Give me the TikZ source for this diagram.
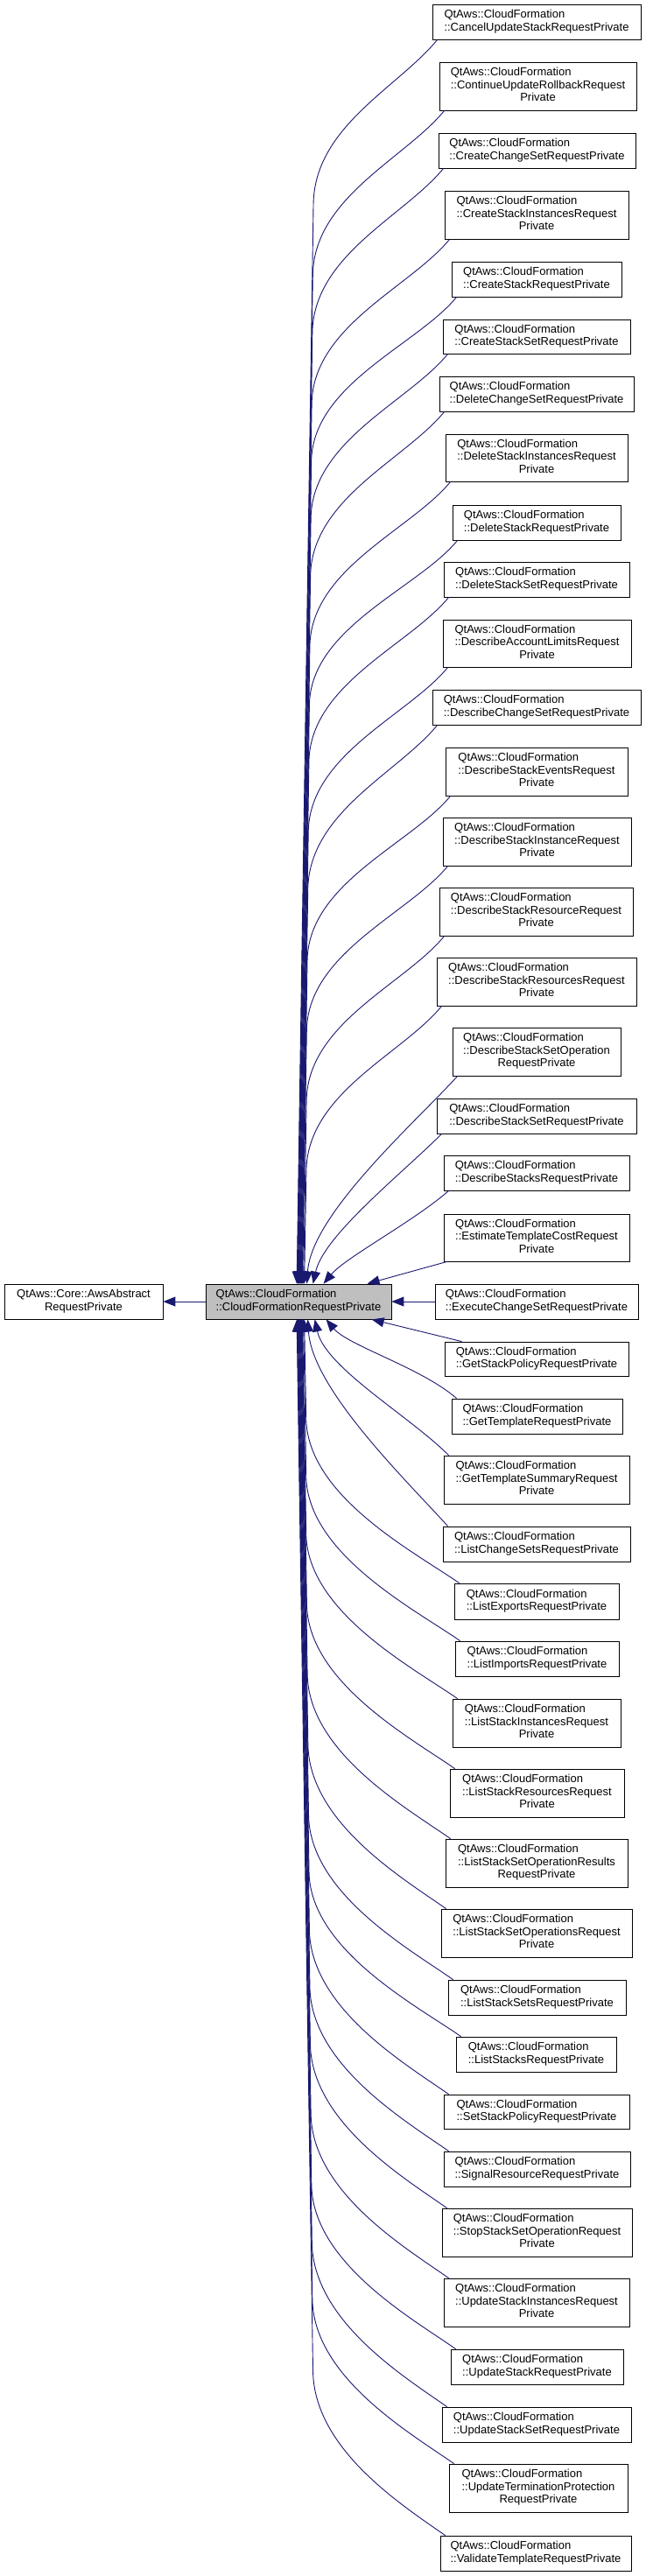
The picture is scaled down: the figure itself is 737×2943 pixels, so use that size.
\documentclass[tikz,border=0pt]{standalone}
\usepackage{fontspec}
\setmainfont{Liberation Sans}
\usetikzlibrary{arrows.meta}
\definecolor{edgeblue}{RGB}{25,25,112}
\definecolor{cfgray}{RGB}{191,191,191}
\newcommand\twoline[1]{\begin{tabular}{@{}l@{}}QtAws::CloudFormation\\\multicolumn{1}{@{}c@{}}{#1}\end{tabular}}
\newcommand\threeline[2]{\begin{tabular}{@{}l@{}}QtAws::CloudFormation\\#1\\\multicolumn{1}{@{}c@{}}{#2}\end{tabular}}
\newcommand\clsbox[6]{\node[cbox, minimum width={#3-#2}, minimum height={#5-#4}] (#1) at ({(#2+#3)/2},{(#4+#5)/2}) {#6};}
\newcommand\upfar[4]{\draw[edge] ([xshift=6]#1.south west) .. controls +(-45,55) and +(0,-90) .. (#2,#3) -- ([xshift=#4]cf.north west);}
\newcommand\lowfar[4]{\draw[edge] ([xshift=6]#1.north west) .. controls +(-50,-35) and +(0,90) .. (#2,#3) -- ([xshift=#4]cf.south west);}
\begin{document}
\begin{tikzpicture}[x=1pt,y=-1pt,
  cbox/.style={draw=black, line width=0.8pt, fill=white, inner sep=0pt, font=\fontsize{13}{14.5}\selectfont},
  edge/.style={draw=edgeblue, line width=0.9pt, -{Triangle[length=14pt,width=11pt]}}]
\useasboundingbox (0,0) rectangle (737,2943);

\node[cbox, fill=cfgray, minimum width=212, minimum height=40] (cf) at (341,1487) {\twoline{::CloudFormationRequestPrivate}};
\node[cbox, minimum width=181, minimum height=40] (base) at (95.5,1487) {\begin{tabular}{@{}l@{}}QtAws::Core::AwsAbstract\\\multicolumn{1}{@{}c@{}}{RequestPrivate}\end{tabular}};

\clsbox{cancel}{494}{732}{5}{45}{\twoline{::CancelUpdateStackRequestPrivate}}
\clsbox{contin}{502}{727}{71}{126}{\threeline{::ContinueUpdateRollbackRequest}{Private}}
\clsbox{ccs}{501}{726}{152}{192}{\twoline{::CreateChangeSetRequestPrivate}}
\clsbox{csi}{508}{718}{218}{273}{\threeline{::CreateStackInstancesRequest}{Private}}
\clsbox{cs}{516}{710}{299}{339}{\twoline{::CreateStackRequestPrivate}}
\clsbox{css}{506}{720}{365}{404}{\twoline{::CreateStackSetRequestPrivate}}
\clsbox{dcs}{502}{724}{430}{470}{\twoline{::DeleteChangeSetRequestPrivate}}
\clsbox{dsi}{509}{717}{496}{550}{\threeline{::DeleteStackInstancesRequest}{Private}}
\clsbox{ds}{517}{709}{577}{617}{\twoline{::DeleteStackRequestPrivate}}
\clsbox{dss}{507}{719}{642}{682}{\twoline{::DeleteStackSetRequestPrivate}}
\clsbox{dal}{506}{721}{708}{762}{\threeline{::DescribeAccountLimitsRequest}{Private}}
\clsbox{dchs}{494}{732}{788}{828}{\twoline{::DescribeChangeSetRequestPrivate}}
\clsbox{dse}{509}{717}{854}{909}{\threeline{::DescribeStackEventsRequest}{Private}}
\clsbox{dsin}{506}{721}{934}{989}{\threeline{::DescribeStackInstanceRequest}{Private}}
\clsbox{dsr}{502}{723}{1014}{1069}{\threeline{::DescribeStackResourceRequest}{Private}}
\clsbox{dsrs}{499}{727}{1094}{1149}{\threeline{::DescribeStackResourcesRequest}{Private}}
\clsbox{dsso}{517}{709}{1174}{1229}{\threeline{::DescribeStackSetOperation}{RequestPrivate}}
\clsbox{dsset}{499}{727}{1255}{1295}{\twoline{::DescribeStackSetRequestPrivate}}
\clsbox{dstk}{507}{719}{1320}{1360}{\twoline{::DescribeStacksRequestPrivate}}
\clsbox{etc}{507}{719}{1387}{1441}{\threeline{::EstimateTemplateCostRequest}{Private}}
\clsbox{ecs}{497}{729}{1467}{1507}{\twoline{::ExecuteChangeSetRequestPrivate}}
\clsbox{gsp}{508}{718}{1533}{1572}{\twoline{::GetStackPolicyRequestPrivate}}
\clsbox{gt}{516}{711}{1598}{1638}{\twoline{::GetTemplateRequestPrivate}}
\clsbox{gts}{507}{719}{1663}{1718}{\threeline{::GetTemplateSummaryRequest}{Private}}
\clsbox{lcs}{506}{720}{1744}{1784}{\twoline{::ListChangeSetsRequestPrivate}}
\clsbox{lex}{519}{707}{1809}{1850}{\twoline{::ListExportsRequestPrivate}}
\clsbox{lim}{520}{707}{1875}{1915}{\twoline{::ListImportsRequestPrivate}}
\clsbox{lsi}{517}{709}{1941}{1996}{\threeline{::ListStackInstancesRequest}{Private}}
\clsbox{lsr}{514}{713}{2021}{2076}{\threeline{::ListStackResourcesRequest}{Private}}
\clsbox{lssor}{509}{717}{2101}{2156}{\threeline{::ListStackSetOperationResults}{RequestPrivate}}
\clsbox{lsso}{504}{722}{2181}{2236}{\threeline{::ListStackSetOperationsRequest}{Private}}
\clsbox{lss}{512}{715}{2262}{2302}{\twoline{::ListStackSetsRequestPrivate}}
\clsbox{lst}{521}{704}{2327}{2367}{\twoline{::ListStacksRequestPrivate}}
\clsbox{ssp}{507}{719}{2393}{2432}{\twoline{::SetStackPolicyRequestPrivate}}
\clsbox{sr}{507}{720}{2458}{2498}{\twoline{::SignalResourceRequestPrivate}}
\clsbox{ssso}{505}{722}{2523}{2578}{\threeline{::StopStackSetOperationRequest}{Private}}
\clsbox{usi}{507}{719}{2603}{2658}{\threeline{::UpdateStackInstancesRequest}{Private}}
\clsbox{us}{515}{712}{2684}{2724}{\twoline{::UpdateStackRequestPrivate}}
\clsbox{uss}{505}{721}{2750}{2790}{\twoline{::UpdateStackSetRequestPrivate}}
\clsbox{utp}{513}{717}{2815}{2870}{\threeline{::UpdateTerminationProtection}{RequestPrivate}}
\clsbox{vt}{503}{721}{2897}{2937}{\twoline{::ValidateTemplateRequestPrivate}}

% base and side
\draw[edge] (cf.west) -- (base.east);
\draw[edge] (ecs.west) -- (cf.east);

% upper children
\upfar{cancel}{358}{235}{104.5}
\upfar{contin}{357.3}{316}{105}
\upfar{ccs}{356.8}{382}{105.5}
\upfar{csi}{356.1}{463}{106}
\upfar{cs}{355.6}{529}{106.5}
\upfar{css}{355.1}{594}{107}
\upfar{dcs}{354.6}{660}{107.5}
\upfar{dsi}{353.9}{740}{108}
\upfar{ds}{353.4}{807}{108.5}
\upfar{dss}{352.9}{872}{109}
\upfar{dal}{352.2}{952}{109.5}
\upfar{dchs}{351.7}{1018}{110}
\upfar{dse}{351}{1099}{110.5}
\upfar{dsin}{350.3}{1179}{111}
\upfar{dsr}{350.1}{1259}{112}
\upfar{dsrs}{349.9}{1339}{113}
\draw[edge] ([xshift=6]dsso.south west) .. controls +(-45,50) and +(5,-80) .. ([xshift=116]cf.north west);
\draw[edge] ([xshift=6]dsset.south west) .. controls +(-45,45) and +(12,-55) .. ([xshift=123]cf.north west);
\draw[edge] ([xshift=6]dstk.south west) .. controls +(-40,35) and +(25,-30) .. ([xshift=135]cf.north west);
\draw[edge] ([xshift=4]etc.south west) -- ([xshift=185]cf.north west);

% lower children
\draw[edge] ([xshift=20]gsp.north west) -- ([xshift=190]cf.south west);
\draw[edge] ([xshift=6]gt.north west) .. controls +(-40,-35) and +(25,30) .. ([xshift=138]cf.south west);
\draw[edge] ([xshift=6]gts.north west) .. controls +(-45,-45) and +(12,55) .. ([xshift=125]cf.south west);
\draw[edge] ([xshift=6]lcs.north west) .. controls +(-45,-50) and +(5,80) .. ([xshift=117]cf.south west);
\lowfar{lex}{349.7}{1619}{113}
\lowfar{lim}{349.7}{1685}{112}
\lowfar{lsi}{349.7}{1751}{111}
\lowfar{lsr}{350.4}{1831}{110.5}
\lowfar{lssor}{351.1}{1911}{110}
\lowfar{lsso}{351.8}{1991}{109.5}
\lowfar{lss}{352.5}{2072}{109}
\lowfar{lst}{353}{2137}{108.5}
\lowfar{ssp}{353.4}{2203}{108}
\lowfar{sr}{353.9}{2268}{107.5}
\lowfar{ssso}{354.4}{2333}{107}
\lowfar{usi}{355.1}{2413}{106.5}
\lowfar{us}{355.8}{2494}{106}
\lowfar{uss}{356.3}{2560}{105.5}
\lowfar{utp}{356.8}{2625}{105}
\lowfar{vt}{357.5}{2707}{104.5}
\end{tikzpicture}
\end{document}
